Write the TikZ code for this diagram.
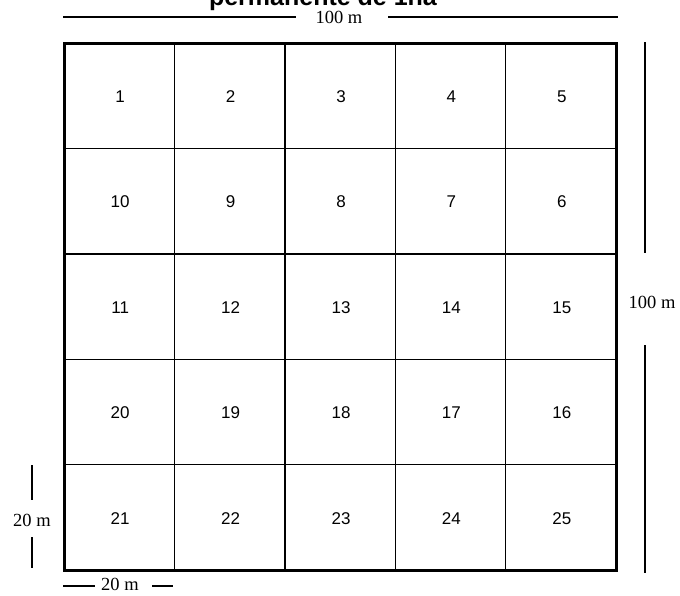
\documentclass[tikz,border=0pt]{standalone}
\usepackage{fontspec}
\setmainfont{Liberation Serif}
\newfontfamily\numfont{Liberation Sans}
\begin{document}
\begin{tikzpicture}[x=1pt,y=-1pt,
  cellnum/.style={font=\numfont\fontsize{17}{19}\selectfont, inner sep=0pt},
  dimlabel/.style={font=\fontsize{18.5}{20}\selectfont, inner sep=0pt},
  dimline/.style={line width=1.4pt},
  gridline/.style={line width=1.4pt},
  border/.style={line width=3pt}]
\useasboundingbox (0,0) rectangle (680,595);
\clip (0,0) rectangle (680,595);
\fill[white] (0,0) rectangle (680,595);
% title (cut off at top, as in the reference)
\node[font=\numfont\bfseries\fontsize{25}{27}\selectfont, anchor=base, inner sep=0pt] (title) at (323,5) {permanente de 1ha};
% grid
\def\xa{64}\def\ya{43}\def\cw{110.4}\def\ch{105.4}
\foreach \i in {1,2,3,4} {
  \draw[gridline] ({\xa+\i*\cw},\ya) -- ({\xa+\i*\cw},{\ya+5*\ch});
  \draw[gridline] (\xa,{\ya+\i*\ch}) -- ({\xa+5*\cw},{\ya+\i*\ch});
}
\draw[border] (\xa,\ya) rectangle ({\xa+5*\cw},{\ya+5*\ch});
% numbers
\foreach \r/\nums in {0/{1,2,3,4,5},1/{10,9,8,7,6},2/{11,12,13,14,15},3/{20,19,18,17,16},4/{21,22,23,24,25}} {
  \foreach \n [count=\c from 0] in \nums {
    \node[cellnum] (n\n) at ({\xa+(\c+0.5)*\cw+1},{\ya+(\r+0.5)*\ch+1}) {\n};
  }
}
% top dimension
\node[dimlabel] (topl) at (339,17) {100 m};
\coordinate (t1) at (63,17); \coordinate (t2) at (618,17);
\coordinate (t3) at (296,17); \coordinate (t4) at (388,17);
\draw[dimline] (t1) -- (t3);
\draw[dimline] (t4) -- (t2);
% right dimension
\node[dimlabel] (rightl) at (652,302) {100 m};
\coordinate (r1) at (645,42); \coordinate (r2) at (645,253);
\coordinate (r3) at (645,345); \coordinate (r4) at (645,573);
\draw[dimline] (r1) -- (r2);
\draw[dimline] (r3) -- (r4);
% left dimension
\node[dimlabel] (leftl) at (32,520) {20 m};
\coordinate (l1) at (32,465); \coordinate (l2) at (32,500);
\coordinate (l3) at (32,537); \coordinate (l4) at (32,568);
\draw[dimline] (l1) -- (l2);
\draw[dimline] (l3) -- (l4);
% bottom dimension
\node[dimlabel] (botl) at (120,584) {20 m};
\coordinate (b1) at (63,586); \coordinate (b2) at (95,586);
\coordinate (b3) at (152,586); \coordinate (b4) at (173,586);
\draw[dimline] (b1) -- (b2);
\draw[dimline] (b3) -- (b4);
\end{tikzpicture}
\end{document}
